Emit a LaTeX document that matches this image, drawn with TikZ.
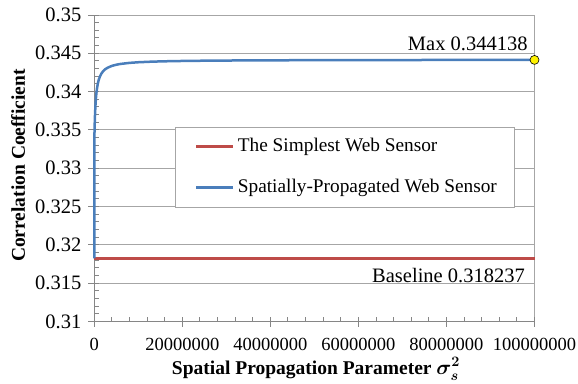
\documentclass[tikz,border=0pt]{standalone}
\usepackage{fontspec}
\setmainfont{Liberation Serif}
\usetikzlibrary{positioning}
\definecolor{gridgray}{HTML}{A6A6A6}
\definecolor{axisgray}{HTML}{868686}
\definecolor{seriesred}{HTML}{BE4B48}
\definecolor{seriesblue}{HTML}{4A7EBB}

\begin{document}
\begin{tikzpicture}[x=1pt,y=-1pt,
grid/.style={gridgray,line width=1pt},axis/.style={axisgray,line width=1pt},
ylab/.style={anchor=east,inner sep=0pt,font=\fontsize{20.5}{24}\selectfont},
xlab/.style={anchor=center,inner sep=0pt,font=\fontsize{18.5}{22}\selectfont},
note/.style={anchor=base east,inner sep=0pt,font=\fontsize{20.5}{24}\selectfont},
legtext/.style={anchor=west,inner sep=0pt,font=\fontsize{19.3}{23}\selectfont},
title/.style={inner sep=0pt,font=\fontsize{19.5}{23}\selectfont\bfseries},
series/.style={line width=2.5pt,line join=round}]
\useasboundingbox (0,0) rectangle (578,383);
% data frame: x in millions, y in thousandths above 0.31
\begin{scope}[shift={(94.3,321.4)},x=4.402pt,y=7.66pt]
\foreach \v in {5,10,...,40} \draw[grid] (0,\v) -- (100,\v);
\draw[grid] (100,0) -- (100,40);
\draw[axis] (0,40) -- (0,0) -- (100,0);
\foreach \v in {0,...,40} \draw[axis] (0,\v) -- ++(4.5pt,0);
\foreach \v in {0,5,...,40} \draw[axis] (0,\v) -- ++(-6pt,0);
\foreach \u in {0,4,...,100} \draw[axis] (\u,0) -- ++(0,4.5pt);
\foreach \u in {0,20,...,100} \draw[axis] (\u,0) -- ++(0,-6pt);
\foreach \v/\t in {0/0.31,5/0.315,10/0.32,15/0.325,20/0.33,25/0.335,30/0.34,35/0.345,40/0.35}
  \node[ylab,xshift=-12.8pt] (y\v) at (0,\v) {\t};
\foreach \u/\t in {0/0,20/20000000,40/40000000,60/60000000,80/80000000,100/100000000}
  \node[xlab,yshift=-22.6pt] (x\u) at (\u,0) {\t};
\coordinate (basestart) at (0,8.237);
\coordinate (baseend) at (100,8.237);
\end{scope}
% legend
\node[draw=gridgray,line width=1pt,fill=white,minimum width=338.6pt,minimum height=80.2pt,inner sep=0pt] (legend) at (345,167.6) {};
\draw[series,seriesred] (196,146.7) -- (233.3,146.7);
\node[legtext] (legsimple) at (237.7,146.7) {The Simplest Web Sensor};
\draw[series,seriesblue] (196,187.7) -- (233.3,187.7);
\node[legtext] (legspatial) at (237.7,187.7) {Spatially-Propagated Web Sensor};
% series
\draw[series,seriesred] (basestart) -- (baseend);
\begin{scope}[shift={(94.3,321.4)},x=4.402pt,y=7.66pt]
\draw[series,seriesblue] (0,8.237) -- plot[variable=\t,samples at={0,0.01,0.02,0.04,0.06,0.08,0.1,0.13,0.16,0.2,0.25,0.3,0.4,0.5,0.6,0.8,1,1.3,1.6,2,2.5,3,4,5,6,8,10,13,16,20,25,30,40,50,60,70,80,90,100}]
  ({\t},{34.173-3.529/(\t+0.327)});
\node[circle,draw=black,fill=yellow,line width=0.6pt,inner sep=0pt,minimum size=9pt] (maxpt) at (100,34.138) {};
\end{scope}
\node[note] (maxlab) at (527.7,50.7) {Max 0.344138};
\node[note] (baselab) at (525,282.3) {Baseline 0.318237};
% axis titles
\node[title,rotate=90] (ytitle) at (18,165.5) {Correlation Coefficient};
\node[title,anchor=base] (xtitle) at (316,374.5) {Spatial Propagation Parameter {\boldmath$\sigma_s^{2}$}};
\end{tikzpicture}
\end{document}
